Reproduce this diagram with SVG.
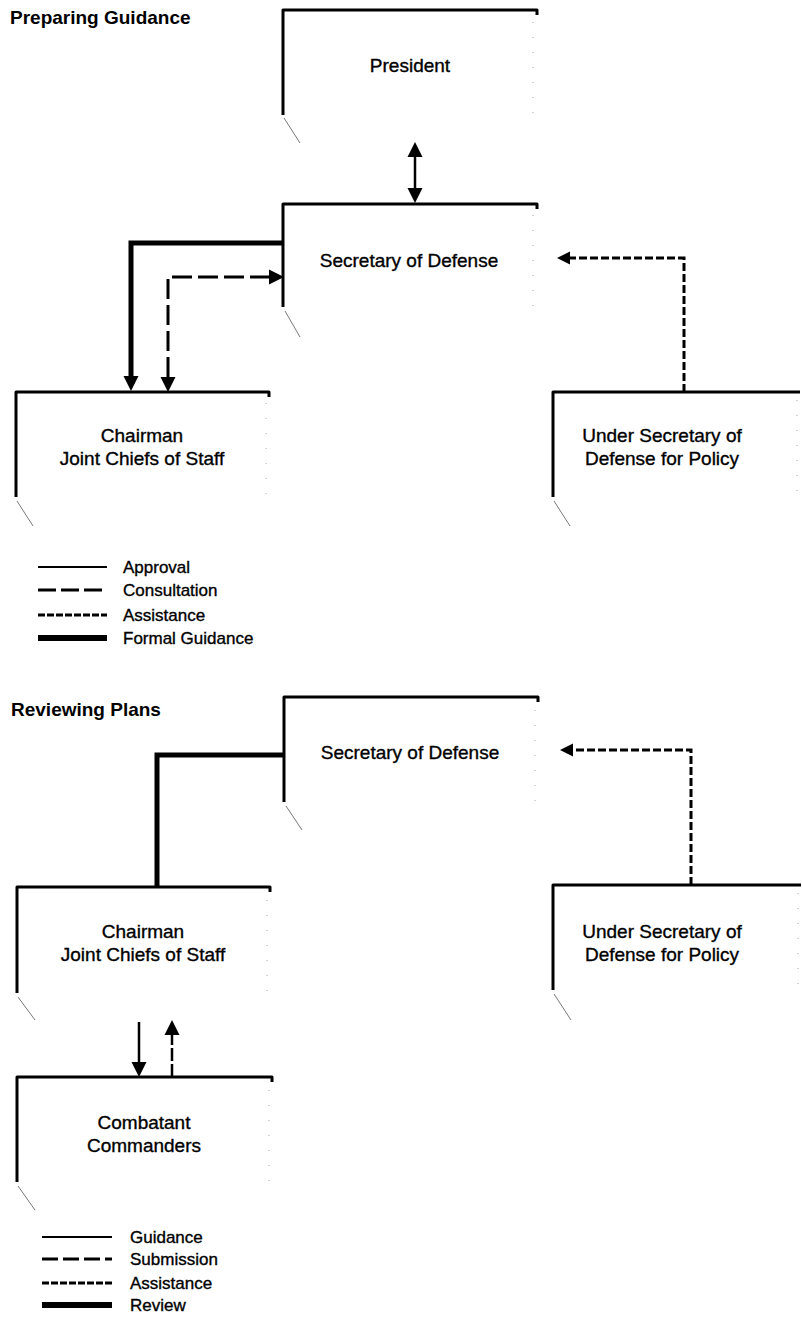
<svg xmlns="http://www.w3.org/2000/svg" width="802" height="1327" viewBox="0 0 802 1327">
<style>
text{font-family:"Liberation Sans",Arial,Helvetica,sans-serif;fill:#000}
.title{font-size:19px;font-weight:bold}
.lbl{font-size:19px;text-anchor:middle;stroke:#000;stroke-width:0.35}
.leg{font-size:17px;stroke:#000;stroke-width:0.35}
.box{fill:none;stroke:#000;stroke-width:3;stroke-linejoin:round}
.diag{fill:none;stroke:#555;stroke-width:0.8}
.faint{fill:none;stroke:#aaa;stroke-width:1;stroke-dasharray:1 14}
.thin{fill:none;stroke:#000;stroke-width:2.5}
.thick{fill:none;stroke:#000;stroke-width:5}
.cons{fill:none;stroke:#000;stroke-width:3;stroke-dasharray:20 6}
.asst{fill:none;stroke:#000;stroke-width:3;stroke-dasharray:8 3}
.subm{fill:none;stroke:#000;stroke-width:2.5;stroke-dasharray:13 3}
</style>
<defs>
<marker id="ah" viewBox="0 -8 15 16" markerWidth="15" markerHeight="16" refX="0" refY="0" orient="auto-start-reverse" markerUnits="userSpaceOnUse">
<path d="M0,-7.5 L15,0 L0,7.5 Z" fill="#000"/>
</marker>
<marker id="ahs" viewBox="0 -7 13 14" markerWidth="13" markerHeight="14" refX="0" refY="0" orient="auto-start-reverse" markerUnits="userSpaceOnUse">
<path d="M0,-6.5 L13,0 L0,6.5 Z" fill="#000"/>
</marker>
</defs>

<text class="title" x="10" y="24">Preparing Guidance</text>
<text class="title" x="11" y="716">Reviewing Plans</text>

<g id="president">
<path class="box" d="M283,115 V10 H537 V15"/>
<path class="faint" d="M533,22 V115"/>
<path class="diag" d="M284,118 L300,143"/>
<text class="lbl" x="410" y="72">President</text>
</g>

<g id="secdef-1">
<path class="box" d="M283,307 V204 H537 V209"/>
<path class="faint" d="M533,215 V307"/>
<path class="diag" d="M285,311 L300,337"/>
<text class="lbl" x="409" y="267">Secretary of Defense</text>
</g>

<g id="cjcs-1">
<path class="box" d="M16,497 V392 H269 V397"/>
<path class="faint" d="M266,403 V497"/>
<path class="diag" d="M17,501 L33,526"/>
<text class="lbl" x="142" y="442">Chairman</text>
<text class="lbl" x="142" y="465">Joint Chiefs of Staff</text>
</g>

<g id="usdp-1">
<path class="box" d="M553,497 V392 H800"/>
<path class="faint" d="M797,400 V497"/>
<path class="diag" d="M554,501 L570,526"/>
<text class="lbl" x="662" y="442">Under Secretary of</text>
<text class="lbl" x="662" y="465">Defense for Policy</text>
</g>

<g id="secdef-2">
<path class="box" d="M284,802 V697 H538 V702"/>
<path class="faint" d="M535,710 V802"/>
<path class="diag" d="M286,806 L302,830"/>
<text class="lbl" x="410" y="759">Secretary of Defense</text>
</g>

<g id="cjcs-2">
<path class="box" d="M17,993 V887 H270 V892"/>
<path class="faint" d="M267,900 V993"/>
<path class="diag" d="M18,997 L35,1020"/>
<text class="lbl" x="143" y="938">Chairman</text>
<text class="lbl" x="143" y="961">Joint Chiefs of Staff</text>
</g>

<g id="usdp-2">
<path class="box" d="M553,990 V885 H801"/>
<path class="faint" d="M798,893 V990"/>
<path class="diag" d="M554,994 L571,1020"/>
<text class="lbl" x="662" y="938">Under Secretary of</text>
<text class="lbl" x="662" y="961">Defense for Policy</text>
</g>

<g id="combatant">
<path class="box" d="M17,1182 V1077 H272 V1082"/>
<path class="faint" d="M269,1090 V1182"/>
<path class="diag" d="M18,1186 L35,1210"/>
<text class="lbl" x="144" y="1129">Combatant</text>
<text class="lbl" x="144" y="1152">Commanders</text>
</g>

<g id="connectors">
<path class="thin" d="M415,157 V188" marker-start="url(#ah)" marker-end="url(#ah)"/>
<path class="thick" d="M283,243 H131 V376" marker-end="url(#ah)"/>
<path class="cons" d="M168,377 V277 H269" marker-start="url(#ah)" marker-end="url(#ah)"/>
<path class="asst" d="M684,392 V258 H570" marker-end="url(#ahs)"/>
<path class="thick" d="M285,755 H157 V887"/>
<path class="asst" d="M691,885 V750 H573" marker-end="url(#ahs)"/>
<path class="thin" d="M139,1022 V1062" marker-end="url(#ah)"/>
<path class="subm" d="M172,1077 V1035" marker-end="url(#ah)"/>
</g>

<g id="legend-1">
<path d="M38,567 H107" fill="none" stroke="#000" stroke-width="2"/>
<path d="M38,590 H107" fill="none" stroke="#000" stroke-width="3" stroke-dasharray="18 5"/>
<path d="M38,615 H107" fill="none" stroke="#000" stroke-width="3" stroke-dasharray="7 2"/>
<path d="M38,638 H107" fill="none" stroke="#000" stroke-width="6"/>
<text class="leg" x="123" y="573">Approval</text>
<text class="leg" x="123" y="596">Consultation</text>
<text class="leg" x="123" y="621">Assistance</text>
<text class="leg" x="123" y="644">Formal Guidance</text>
</g>

<g id="legend-2">
<path d="M42,1237 H112" fill="none" stroke="#000" stroke-width="2"/>
<path d="M42,1259 H112" fill="none" stroke="#000" stroke-width="3" stroke-dasharray="16 5"/>
<path d="M42,1283 H112" fill="none" stroke="#000" stroke-width="3" stroke-dasharray="7 2"/>
<path d="M42,1305 H112" fill="none" stroke="#000" stroke-width="6"/>
<text class="leg" x="130" y="1243">Guidance</text>
<text class="leg" x="130" y="1265">Submission</text>
<text class="leg" x="130" y="1289">Assistance</text>
<text class="leg" x="130" y="1311">Review</text>
</g>
</svg>
